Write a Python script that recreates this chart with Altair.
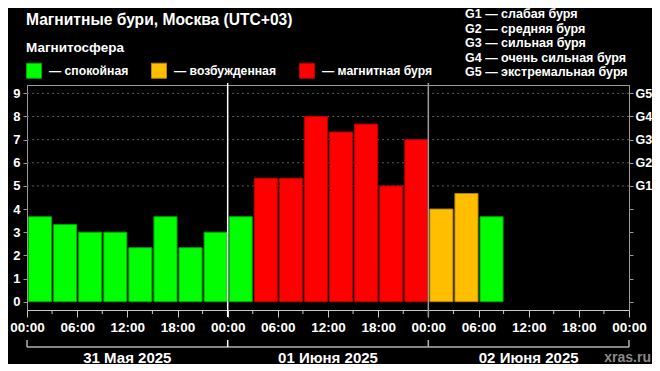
import json
import altair as alt
import pandas as pd

# ---------------- data ----------------
TITLE = "Магнитные бури, Москва (UTC+03)"
LEGEND_TITLE = "Магнитосфера"
STATES = ["спокойная", "возбужденная", "магнитная буря"]
FILLS = ["#00ff00", "#ffbf00", "#ff0000"]
STROKES = ["#00a800", "#b58800", "#b80000"]

START_HOURS = [0, 3, 6, 9, 12, 15, 18, 21, 24, 27, 30, 33, 36, 39, 42, 45, 48, 51, 54]
KP = [3.67, 3.33, 3.0, 3.0, 2.33, 3.67, 2.33, 3.0,
      3.67, 5.33, 5.33, 8.0, 7.33, 7.67, 5.0, 7.0,
      4.0, 4.67, 3.67]
STATE = (["спокойная"] * 9 + ["магнитная буря"] * 7
         + ["возбужденная"] * 2 + ["спокойная"])
INTERVAL = 3

G_LINES = ["G1 — слабая буря", "G2 — средняя буря", "G3 — сильная буря",
           "G4 — очень сильная буря", "G5 — экстремальная буря"]
KP_TICKS = [0, 1, 2, 3, 4, 5, 6, 7, 8, 9]
G_LEVELS = [5, 6, 7, 8, 9]

TIME_TICKS = [0, 6, 12, 18, 24, 30, 36, 42, 48, 54, 60, 66, 72]
TIME_LABELS = ["00:00", "06:00", "12:00", "18:00", "00:00", "06:00", "12:00",
               "18:00", "00:00", "06:00", "12:00", "18:00", "00:00"]
MINOR_TICKS = [3, 9, 15, 21, 27, 33, 39, 45, 51, 57, 63, 69]
DAY_LABELS = ["31 Мая 2025", "01 Июня 2025", "02 Июня 2025"]
DAY_MIDS = [12, 36, 60]
DAY_BOUNDS = [0, 24, 48, 72]
BOUND_COLORS = ["#b0b0b0", "#ffffff", "#b0b0b0", "#b0b0b0"]
SEPARATORS = [24, 48]
SEP_COLORS = ["#ffffff", "#9a9a9a"]
SOURCE = "xras.ru"

# ---------------- layout ----------------
W, H = 602, 225
FONT = "Liberation Sans"

df = pd.DataFrame({"start": START_HOURS, "kp": KP, "state": STATE})
df["end"] = df["start"] + INTERVAL

xscale = alt.Scale(domain=[DAY_BOUNDS[0], DAY_BOUNDS[-1]], nice=False, zero=False)
yscale = alt.Scale(domain=[-0.36, 9.36], nice=False, zero=False)

XAXIS = alt.Axis(values=TIME_TICKS, labelExpr=json.dumps(TIME_LABELS) + "[round(datum.value/6)]",
                 title=None, tickSize=7, tickColor="#c8c8c8", domainColor="#c8c8c8",
                 labelFontSize=13.5, labelPadding=3, labelOverlap=False, labelFlush=False,
                 grid=False)

bars = alt.Chart(df).mark_bar(strokeWidth=1, binSpacing=2).encode(
    x=alt.X("start:Q", bin="binned", scale=xscale, axis=XAXIS),
    x2="end:Q",
    y=alt.Y("kp:Q", scale=yscale,
            axis=alt.Axis(values=KP_TICKS, title=None, tickSize=4, labelPadding=3,
                          tickColor="#9a9a9a", domainColor="#9a9a9a", grid=False,
                          labelFontSize=13)),
    y2=alt.value(H),
    fill=alt.Fill("state:N", scale=alt.Scale(domain=STATES, range=FILLS),
                  legend=alt.Legend(orient="none", legendX=-1, legendY=-44,
                                    direction="horizontal", title=LEGEND_TITLE,
                                    titleColor="white", titleFont=FONT, titleFontSize=13.5,
                                    titleFontWeight="bold", titlePadding=8,
                                    labelColor="white", labelFont=FONT, labelFontSize=12.2,
                                    labelFontWeight="bold",
                                    labelExpr="'— ' + datum.label",
                                    symbolType="square", symbolSize=225,
                                    symbolStrokeWidth=1, symbolStrokeColor="#333",
                                    labelOffset=7, columnPadding=20, padding=0)),
    stroke=alt.Stroke("state:N", scale=alt.Scale(domain=STATES, range=STROKES), legend=None),
)

grid = alt.Chart(pd.DataFrame({"g": G_LEVELS})).mark_rule(
    color="#5a5a5a", strokeDash=[2, 3], strokeWidth=1).encode(
    y=alt.Y("g:Q", scale=yscale,
            axis=alt.Axis(orient="right", values=KP_TICKS, title=None, tickSize=4,
                          labelPadding=2, tickColor="#9a9a9a", domainColor="#9a9a9a",
                          grid=False, labelFontSize=12.5,
                          labelExpr="datum.value >= 5 ? 'G' + (datum.value - 4) : ''")),
)

seps = alt.Chart(pd.DataFrame({"h": SEPARATORS, "c": SEP_COLORS})).mark_rule(strokeWidth=1.5).encode(
    x=alt.X("h:Q", scale=xscale, axis=XAXIS),
    y=alt.value(-2), y2=alt.value(H + 7),
    color=alt.Color("c:N", scale=None),
)

minor = alt.Chart(pd.DataFrame({"h": MINOR_TICKS})).mark_rule(color="#c8c8c8").encode(
    x=alt.X("h:Q", scale=xscale, axis=XAXIS),
    y=alt.value(H), y2=alt.value(H + 4),
)

bracket_h = alt.Chart(pd.DataFrame({"a": [DAY_BOUNDS[0]], "b": [DAY_BOUNDS[-1]]})).mark_rule(
    color="#b0b0b0", strokeWidth=1.5).encode(
    x=alt.X("a:Q", scale=xscale, axis=XAXIS), x2="b:Q",
    y=alt.value(H + 37),
)

bracket_v = alt.Chart(pd.DataFrame({"h": DAY_BOUNDS, "c": BOUND_COLORS})).mark_rule(strokeWidth=1.5).encode(
    x=alt.X("h:Q", scale=xscale, axis=XAXIS),
    y=alt.value(H + 30), y2=alt.value(H + 37),
    color=alt.Color("c:N", scale=None),
)

days = alt.Chart(pd.DataFrame({"h": DAY_MIDS, "t": DAY_LABELS})).mark_text(
    font=FONT, fontSize=15, fontWeight="bold", color="white", baseline="middle").encode(
    x=alt.X("h:Q", scale=xscale, axis=XAXIS),
    y=alt.value(H + 47.5), text="t:N",
)

title = alt.Chart(pd.DataFrame({"t": [TITLE]})).mark_text(
    font=FONT, fontSize=15.6, fontWeight="bold", color="white", align="left",
    baseline="middle").encode(x=alt.value(-1), y=alt.value(-65.5), text="t:N")

glist = alt.Chart(pd.DataFrame({"t": ["\n".join(G_LINES)]})).mark_text(
    font=FONT, fontSize=12.5, fontWeight="bold", color="white", align="left",
    baseline="top", lineBreak="\n", lineHeight=14.6).encode(
    x=alt.value(438), y=alt.value(-77), text="t:N")

source = alt.Chart(pd.DataFrame({"t": [SOURCE]})).mark_text(
    font=FONT, fontSize=14, fontWeight="bold", color="#8a8a8a", align="right",
    baseline="middle").encode(x=alt.value(W + 22), y=alt.value(H + 47.5), text="t:N")

chart = alt.layer(grid, bars, seps, minor, bracket_h, bracket_v, days, title, glist, source).resolve_scale(
    y="independent").properties(
    width=W, height=H,
    padding={"left": 19, "top": 77, "right": 23, "bottom": 54},
    autosize=alt.AutoSizeParams(type="none"),
    background="#000000",
).configure_view(stroke="#9a9a9a", strokeWidth=1).configure_axis(
    labelFont=FONT, labelFontWeight="bold", labelColor="white",
)

chart.save("out.html", embed_options={"renderer": "svg", "actions": False})
